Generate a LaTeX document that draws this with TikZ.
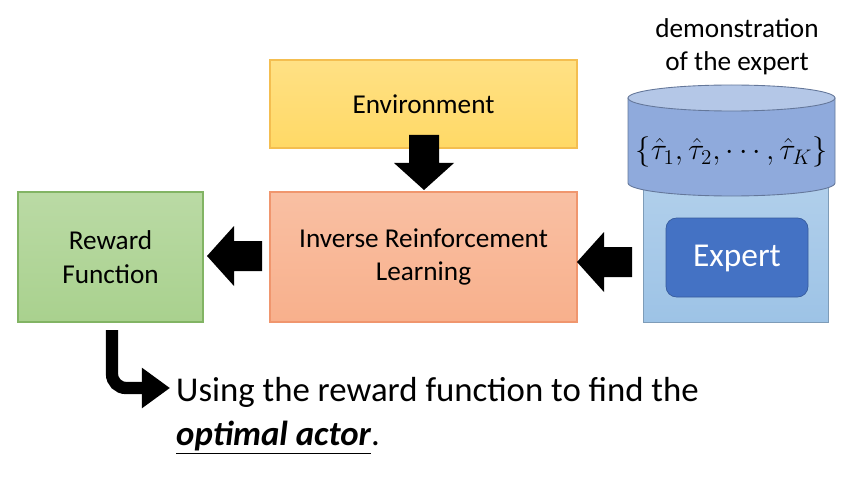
\documentclass[tikz,border=0pt]{standalone}
\usepackage{fontspec}
\setmainfont{Carlito}
\usetikzlibrary{arrows.meta}
\definecolor{EnvClr}{RGB}{255,217,102}
\definecolor{EnvLine}{RGB}{244,190,80}
\definecolor{IrlClr}{RGB}{248,176,140}
\definecolor{IrlLine}{RGB}{240,150,110}
\definecolor{RewClr}{RGB}{169,209,142}
\definecolor{RewLine}{RGB}{130,180,100}
\definecolor{CylClr}{RGB}{143,170,220}
\definecolor{CylTop}{RGB}{180,199,231}
\definecolor{BaseClr}{RGB}{157,195,230}
\definecolor{ExpClr}{RGB}{68,114,196}

\tikzset{
  box/.style={draw=#1,line width=0.6pt},
  lbl/.style={font=\fontsize{15.5}{19}\selectfont,align=center},
  blkarrow/.pic={\fill[black] (0,-15) -- (-28,-15) -- (-28,-30) -- (-55,0)
    -- (-28,30) -- (-28,15) -- (0,15) -- cycle;}
}

\begin{document}
\begin{tikzpicture}[x=0.02cm,y=-0.02cm]
\useasboundingbox (0,0) rectangle (864,476);

% boxes
\draw[box=EnvLine,top color=EnvClr!80,bottom color=EnvClr] (270,60) rectangle (577,148);
\node[lbl] (env) at (423.5,104) {Environment};
\draw[box=IrlLine,top color=IrlClr!80,bottom color=IrlClr] (270,192) rectangle (577,322);
\node[lbl] (irl) at (423.5,257) {Inverse Reinforcement\\Learning};
\draw[box=RewLine,top color=RewClr!80,bottom color=RewClr] (18,192) rectangle (203,322);
\node[lbl] (rew) at (110.5,257) {Reward\\Function};

% expert and demonstrations
\draw[draw=BaseClr!80!black,line width=0.5pt,top color=BaseClr!80,bottom color=BaseClr] (643,185) rectangle (828,322);
\draw[fill=ExpClr,draw=ExpClr!80!black,rounded corners=6pt] (666,218) rectangle (808,297);
\node[lbl,text=white,font=\fontsize{19}{22}\selectfont] (exp) at (737,258) {Expert};
\draw[draw=CylClr!70!black,line width=0.5pt,fill=CylClr]
  (628,98) -- (628,183) arc[start angle=180,end angle=360,x radius=103.5,y radius=-13]
  -- (835,98) -- cycle;
\draw[draw=CylClr!70!black,line width=0.5pt,fill=CylTop] (731.5,98) ellipse[x radius=103.5,y radius=13];
\node[lbl,font=\fontsize{17}{20}\selectfont] (demo) at (731.5,152) {$\{\hat\tau_1,\hat\tau_2,\cdots,\hat\tau_K\}$};
\node[lbl] (title) at (737,47) {demonstration\\of the expert};

% block arrows
\pic[rotate=90] at (424,135) {blkarrow};
\pic at (262,256) {blkarrow};
\pic at (632,262) {blkarrow};

% bent arrow and note
\coordinate (bstart) at (112,330);
\node[anchor=west,font=\fontsize{19.8}{25}\selectfont,align=left] (note) at (170,416)
  {Using the reward function to find the\\\underline{\textbf{\textit{optimal actor}}}.};
\draw[line width=7pt,-{Triangle[length=16pt,width=22pt]},rounded corners=8pt]
  (bstart) |- (note.west |- 0,388);
\end{tikzpicture}
\end{document}
